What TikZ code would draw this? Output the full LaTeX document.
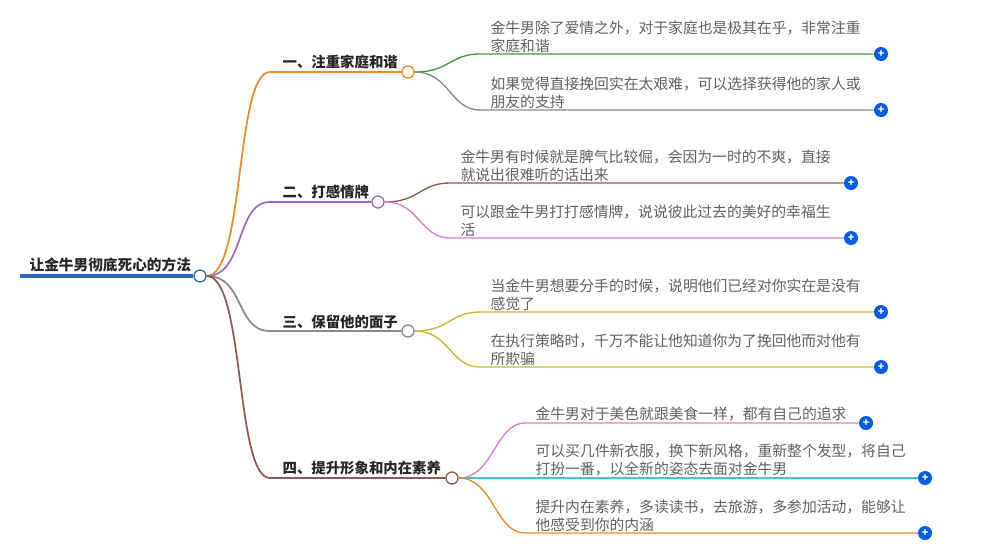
\documentclass[tikz,border=0pt]{standalone}
\usepackage{fontspec}
\setmainfont{Noto Sans CJK SC}
\begin{document}
\begin{tikzpicture}[x=0.75pt,y=-0.75pt,
  leaf/.style={anchor=south west,align=left,text=black!62,font=\fontsize{11.1}{13.5}\selectfont,inner sep=1pt},
  title/.style={anchor=south west,font=\bfseries\fontsize{10.8}{13}\selectfont,text=black!85,inner sep=1pt},
  dot/.style={circle,draw=#1,fill=white,line width=1pt,minimum size=9pt,inner sep=0pt},
  plus/.style={circle,fill=blue!60!cyan!90!black,minimum size=10.5pt,inner sep=0pt,text=white,font=\bfseries\fontsize{8}{8}\selectfont},
  edge/.style={line width=1pt,draw=#1}]
\useasboundingbox (0,0) rectangle (987,554);
\definecolor{corg}{HTML}{F0892A}\definecolor{cpur}{HTML}{9C6CC4}\definecolor{cgry}{HTML}{8A8A8A}
\definecolor{cbrn}{HTML}{8B5A4C}\definecolor{cgrn}{HTML}{3E9E3A}\definecolor{cpnk}{HTML}{E07CC6}
\definecolor{coli}{HTML}{C8BA2C}\definecolor{ccyn}{HTML}{48C2D2}\definecolor{cblu}{HTML}{2A6DB3}
% root
\coordinate (r0) at (20,276);
\node[dot=cblu] (r) at (200,276) {};
\draw[line width=2.5pt,cblu] (r0) -- (r.west);
\node[title,font=\bfseries\fontsize{11}{13}\selectfont] (rt) at (28,274) {让金牛男彻底死心的方法};
% branches
\def\br#1#2#3#4#5{%
  \coordinate (b#1s) at (270,#3);
  \node[dot=#2] (b#1) at (#4,#3) {};
  \draw[edge=#2,line width=1.3pt] (r.east) .. controls (245,276) and (235,#3) .. (b#1s) -- (b#1.west);
  \node[title] (bt#1) at (281,#3-1) {#5};}
\br{1}{corg}{72}{408}{一、注重家庭和谐}
\br{2}{cpur}{202}{378}{二、打感情牌}
\br{3}{cgry}{331}{408}{三、保留他的面子}
\br{4}{cbrn}{478}{452}{四、提升形象和内在素养}
% leaves: id, parent, color, y, xstart, xend, text
\def\lf#1#2#3#4#5#6#7{%
  \coordinate (l#1s) at (#5,#4);
  \node[plus] (p#1) at (#6,#4) {+};
  \draw[edge=#3] (#2.east) .. controls +(35,0) and (#5-30,#4) .. (l#1s) -- (p#1.west);
  \node[leaf] (t#1) at (#5+9,#4) {#7};}
\lf{a}{b1}{cgrn}{54}{480}{881}{金牛男除了爱情之外，对于家庭也是极其在乎，非常注重\\家庭和谐}
\lf{b}{b1}{cgry}{110}{480}{881}{如果觉得直接挽回实在太艰难，可以选择获得他的家人或\\朋友的支持}
\lf{c}{b2}{cbrn}{183}{450}{851}{金牛男有时候就是脾气比较倔，会因为一时的不爽，直接\\就说出很难听的话出来}
\lf{d}{b2}{cpnk}{238}{450}{851}{可以跟金牛男打打感情牌，说说彼此过去的美好的幸福生\\活}
\lf{e}{b3}{coli}{312}{480}{881}{当金牛男想要分手的时候，说明他们已经对你实在是没有\\感觉了}
\lf{f}{b3}{coli}{367}{480}{881}{在执行策略时，千万不能让他知道你为了挽回他而对他有\\所欺骗}
\lf{g}{b4}{cpnk}{423}{525}{866}{金牛男对于美色就跟美食一样，都有自己的追求}
\lf{h}{b4}{ccyn}{478}{525}{925}{可以买几件新衣服，换下新风格，重新整个发型，将自己\\打扮一番，以全新的姿态去面对金牛男}
\lf{i}{b4}{corg}{533}{525}{925}{提升内在素养，多读读书，去旅游，多参加活动，能够让\\他感受到你的内涵}
\end{tikzpicture}
\end{document}
